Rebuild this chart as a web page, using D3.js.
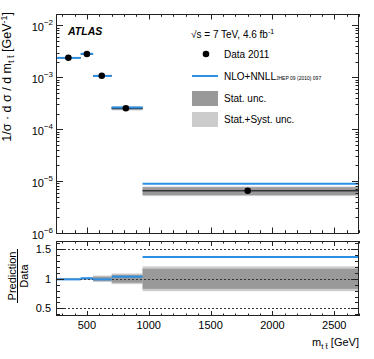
<!DOCTYPE html>
<html>
<head>
<meta charset="utf-8">
<script src="https://cdn.jsdelivr.net/npm/d3@7"></script>
<style>
  body { margin: 0; background: #fff; }
  svg { display: block; font-family: "Liberation Sans", Arial, Helvetica, sans-serif; }
</style>
</head>
<body>
<script>
//data
var binEdges = [250, 450, 550, 700, 950, 2700]; //m_tt bin edges [GeV]
var dataX = [350, 500, 620, 815, 1800]; //where the data points sit
var dataY = [2.39e-3, 2.81e-3, 1.07e-3, 2.53e-4, 6.5e-6]; //1/sigma dsigma/dm
var predRatio = [0.99, 1.01, 0.99, 1.035, 1.37]; //NLO+NNLL / data
var statRel = [0.008, 0.01, 0.035, 0.065, 0.17]; //relative stat. unc.
var totRel = [0.015, 0.02, 0.055, 0.09, 0.21]; //relative stat.+syst. unc.
var xTicks = [500, 1000, 1500, 2000, 2500];
var yDecades = [1e-6, 1e-5, 1e-4, 1e-3, 1e-2];
var ratioTicks = [0.5, 1, 1.5];

(function(){

    var width = 374, height = 359;
    var left = 56, right = 359;
    var mainTop = 14, mainBottom = 233;
    var ratTop = 241, ratBottom = 316;
    var blue = "#2b8fe5", dark = "#999999", light = "#cccccc";

    var svg = d3.select("body").append("svg")
        .attr("width", width)
        .attr("height", height);

    //scales
    var x = d3.scaleLinear().domain([250, 2700]).range([left, right]);
    var y = d3.scaleLog().domain([1e-6, 0.0166]).range([mainBottom, mainTop]);
    var yr = d3.scaleLinear().domain([0.37, 1.64]).range([ratBottom, ratTop]);

    //build bins table
    var bins = dataY.map(function(v, i){
        return {x0: binEdges[i], x1: binEdges[i+1], xc: dataX[i], v: v,
                r: predRatio[i], s: statRel[i], t: totRel[i]};
    });

    // ---------- main panel ----------
    var main = svg.append("g");

    //total unc band
    main.selectAll(".tot").data(bins).enter().append("rect")
        .attr("x", function(d){ return x(d.x0); })
        .attr("width", function(d){ return x(d.x1) - x(d.x0); })
        .attr("y", function(d){ return y(d.v * (1 + d.t)); })
        .attr("height", function(d){ return y(d.v * (1 - d.t)) - y(d.v * (1 + d.t)); })
        .attr("fill", light);

    //stat unc band
    main.selectAll(".stat").data(bins).enter().append("rect")
        .attr("x", function(d){ return x(d.x0); })
        .attr("width", function(d){ return x(d.x1) - x(d.x0); })
        .attr("y", function(d){ return y(d.v * (1 + d.s)); })
        .attr("height", function(d){ return y(d.v * (1 - d.s)) - y(d.v * (1 + d.s)); })
        .attr("fill", dark);

    //data bin width lines
    main.selectAll(".xerr").data(bins).enter().append("line")
        .attr("x1", function(d){ return x(d.x0); })
        .attr("x2", function(d){ return x(d.x1); })
        .attr("y1", function(d){ return y(d.v); })
        .attr("y2", function(d){ return y(d.v); })
        .attr("stroke", "#000").attr("stroke-width", 1);

    //prediction
    main.selectAll(".pred").data(bins).enter().append("line")
        .attr("x1", function(d){ return x(d.x0); })
        .attr("x2", function(d){ return x(d.x1); })
        .attr("y1", function(d){ return y(d.v * d.r); })
        .attr("y2", function(d){ return y(d.v * d.r); })
        .attr("stroke", blue).attr("stroke-width", 2);

    //data points
    main.selectAll(".pt").data(bins).enter().append("circle")
        .attr("cx", function(d){ return x(d.xc); })
        .attr("cy", function(d){ return y(d.v); })
        .attr("r", 3.3)
        .attr("fill", "#000");

    //frame
    main.append("rect")
        .attr("x", left + 0.5).attr("y", mainTop + 0.5)
        .attr("width", right - left - 1).attr("height", mainBottom - mainTop)
        .attr("fill", "none").attr("stroke", "#222");

    //log ticks on both sides
    var yMinor = [];
    yDecades.forEach(function(dec){
        for (var k = 2; k <= 9; k++){
            if (dec * k < y.domain()[1]) yMinor.push(dec * k);
        }
    });
    [left, right].forEach(function(px, side){
        var dir = side == 0 ? 1 : -1;
        main.selectAll(null).data(yDecades).enter().append("line")
            .attr("x1", px).attr("x2", px + dir * 7)
            .attr("y1", function(d){ return Math.round(y(d)) + 0.5; })
            .attr("y2", function(d){ return Math.round(y(d)) + 0.5; })
            .attr("stroke", "#222");
        main.selectAll(null).data(yMinor).enter().append("line")
            .attr("x1", px).attr("x2", px + dir * 3.5)
            .attr("y1", function(d){ return Math.round(y(d)) + 0.5; })
            .attr("y2", function(d){ return Math.round(y(d)) + 0.5; })
            .attr("stroke", "#222");
    });

    //x ticks on main panel (top and bottom) and ratio panel
    var xMinor = d3.range(300, 2701, 100).filter(function(v){ return v % 500 != 0; });
    [[mainBottom, -1, 5.5, 2.8], [mainTop, 1, 5.5, 2.8], [ratBottom, -1, 5, 2.5], [ratTop, 1, 5, 2.5]]
        .forEach(function(a){
            svg.selectAll(null).data(xTicks).enter().append("line")
                .attr("x1", function(d){ return Math.round(x(d)) + 0.5; })
                .attr("x2", function(d){ return Math.round(x(d)) + 0.5; })
                .attr("y1", a[0]).attr("y2", a[0] + a[1] * a[2])
                .attr("stroke", "#222");
            svg.selectAll(null).data(xMinor).enter().append("line")
                .attr("x1", function(d){ return Math.round(x(d)) + 0.5; })
                .attr("x2", function(d){ return Math.round(x(d)) + 0.5; })
                .attr("y1", a[0]).attr("y2", a[0] + a[1] * a[3])
                .attr("stroke", "#222");
        });

    //y tick labels 10^n
    var yl = main.selectAll(".ylab").data(yDecades).enter().append("text")
        .attr("x", 53)
        .attr("y", function(d){ return y(d) + 6; })
        .attr("text-anchor", "end")
        .attr("font-size", 11);
    yl.append("tspan").text("10");
    yl.append("tspan").attr("font-size", 8).attr("dy", -6)
        .text(function(d){ return "\u2212" + Math.round(-Math.log10(d)); });

    //y title
    var yt = main.append("text")
        .attr("transform", "translate(11,12) rotate(-90)")
        .attr("text-anchor", "end")
        .attr("font-size", 12.5);
    yt.append("tspan").text("1/\u03c3 \u00b7 d \u03c3 / d m");
    yt.append("tspan").attr("font-size", 9).attr("dy", 3).text("t t\u0304");
    yt.append("tspan").attr("dy", -3).text(" [GeV");
    yt.append("tspan").attr("font-size", 9).attr("dy", -4).text("-1");
    yt.append("tspan").attr("dy", 4).text("]");

    //ATLAS label
    main.append("text")
        .attr("x", 68).attr("y", 35)
        .attr("font-size", 10.5).attr("font-weight", "bold").attr("font-style", "italic")
        .text("ATLAS");

    //legend
    var lg = main.append("g").attr("font-size", 10);
    var sq = lg.append("text").attr("x", 191).attr("y", 37.5);
    sq.append("tspan").text("\u221as = 7 TeV, 4.6 fb");
    sq.append("tspan").attr("font-size", 7).attr("dy", -4).text("-1");

    lg.append("circle").attr("cx", 206).attr("cy", 54).attr("r", 3.3).attr("fill", "#000");
    lg.append("text").attr("x", 224).attr("y", 57.5).text("Data 2011");

    lg.append("line").attr("x1", 192).attr("x2", 218).attr("y1", 76).attr("y2", 76)
        .attr("stroke", blue).attr("stroke-width", 2);
    var nlo = lg.append("text").attr("x", 224).attr("y", 79.5);
    nlo.append("tspan").text("NLO+NNLL");
    nlo.append("tspan").attr("font-size", 5).text("JHEP 09 (2010) 097");

    lg.append("rect").attr("x", 192).attr("y", 91).attr("width", 26).attr("height", 15).attr("fill", dark);
    lg.append("text").attr("x", 224).attr("y", 101.5).text("Stat. unc.");

    lg.append("rect").attr("x", 192).attr("y", 112).attr("width", 26).attr("height", 15).attr("fill", light);
    lg.append("text").attr("x", 224).attr("y", 122.5).text("Stat.+Syst. unc.");

    // ---------- ratio panel ----------
    var rat = svg.append("g");

    rat.selectAll(".rtot").data(bins).enter().append("rect")
        .attr("x", function(d){ return x(d.x0); })
        .attr("width", function(d){ return x(d.x1) - x(d.x0); })
        .attr("y", function(d){ return yr(1 + d.t); })
        .attr("height", function(d){ return yr(1 - d.t) - yr(1 + d.t); })
        .attr("fill", light);

    rat.selectAll(".rstat").data(bins).enter().append("rect")
        .attr("x", function(d){ return x(d.x0); })
        .attr("width", function(d){ return x(d.x1) - x(d.x0); })
        .attr("y", function(d){ return yr(1 + d.s); })
        .attr("height", function(d){ return yr(1 - d.s) - yr(1 + d.s); })
        .attr("fill", dark);

    //dashed reference lines
    rat.selectAll(".ref").data(ratioTicks).enter().append("line")
        .attr("x1", left).attr("x2", right)
        .attr("y1", function(d){ return Math.round(yr(d)) + 0.5; })
        .attr("y2", function(d){ return Math.round(yr(d)) + 0.5; })
        .attr("stroke", "#333").attr("stroke-dasharray", "2,2");

    rat.selectAll(".rpred").data(bins).enter().append("line")
        .attr("x1", function(d){ return x(d.x0); })
        .attr("x2", function(d){ return x(d.x1); })
        .attr("y1", function(d){ return yr(d.r); })
        .attr("y2", function(d){ return yr(d.r); })
        .attr("stroke", blue).attr("stroke-width", 2);

    rat.append("rect")
        .attr("x", left + 0.5).attr("y", ratTop + 0.5)
        .attr("width", right - left - 1).attr("height", ratBottom - ratTop - 1)
        .attr("fill", "none").attr("stroke", "#222");

    var rMinor = d3.range(4, 17).map(function(v){ return v / 10; })
        .filter(function(v){ return ratioTicks.indexOf(v) < 0; });
    [left, right].forEach(function(px, side){
        var dir = side == 0 ? 1 : -1;
        rat.selectAll(null).data(ratioTicks).enter().append("line")
            .attr("x1", px).attr("x2", px + dir * 8)
            .attr("y1", function(d){ return Math.round(yr(d)) + 0.5; })
            .attr("y2", function(d){ return Math.round(yr(d)) + 0.5; })
            .attr("stroke", "#222");
        rat.selectAll(null).data(rMinor).enter().append("line")
            .attr("x1", px).attr("x2", px + dir * 4)
            .attr("y1", function(d){ return Math.round(yr(d)) + 0.5; })
            .attr("y2", function(d){ return Math.round(yr(d)) + 0.5; })
            .attr("stroke", "#222");
    });

    rat.selectAll(".rlab").data(ratioTicks).enter().append("text")
        .attr("x", 51).attr("y", function(d){ return yr(d) + 4; })
        .attr("text-anchor", "end").attr("font-size", 11)
        .text(function(d){ return d; });

    //ratio y title as a fraction
    var rt = rat.append("g").attr("transform", "translate(0,276) rotate(-90)");
    rt.append("text").attr("x", 0).attr("y", 15.5).attr("text-anchor", "middle")
        .attr("font-size", 11).text("Prediction");
    rt.append("line").attr("x1", -27).attr("x2", 27).attr("y1", 17.5).attr("y2", 17.5)
        .attr("stroke", "#000");
    rt.append("text").attr("x", 0).attr("y", 27.5).attr("text-anchor", "middle")
        .attr("font-size", 11).text("Data");

    //x tick labels
    svg.selectAll(".xlab").data(xTicks).enter().append("text")
        .attr("x", function(d){ return x(d); })
        .attr("y", 329)
        .attr("text-anchor", "middle").attr("font-size", 11)
        .text(function(d){ return d; });

    //x title
    var xt = svg.append("text").attr("x", 359).attr("y", 346)
        .attr("text-anchor", "end").attr("font-size", 11);
    xt.append("tspan").text("m");
    xt.append("tspan").attr("font-size", 8).attr("dy", 3).text("t t\u0304");
    xt.append("tspan").attr("dy", -3).text(" [GeV]");

})();
</script>
</body>
</html>
